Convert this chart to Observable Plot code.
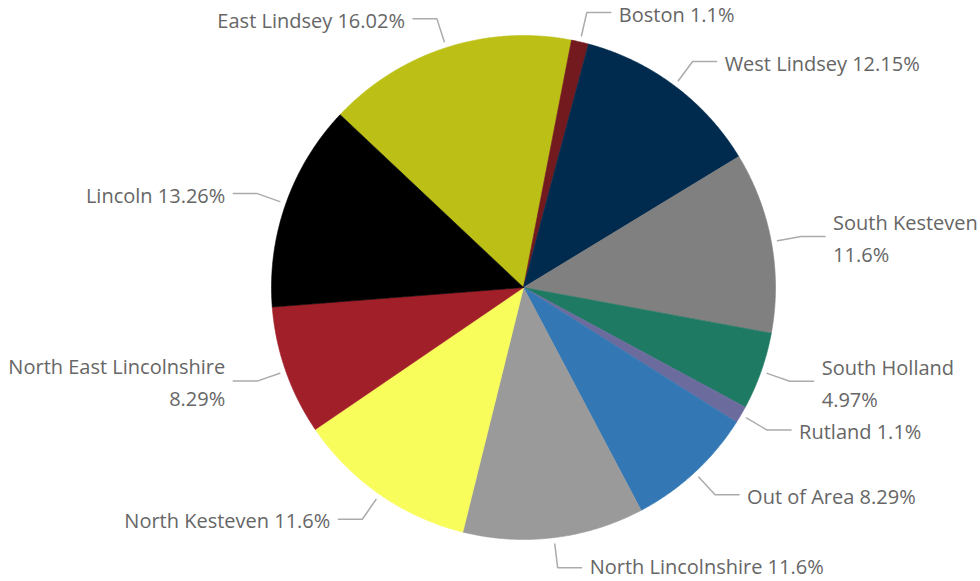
<!DOCTYPE html>
<html>
<head>
<meta charset="utf-8">
<script src="https://cdn.jsdelivr.net/npm/d3@7"></script>
<script src="https://cdn.jsdelivr.net/npm/@observablehq/plot@0.6"></script>
<style>
  html, body { margin: 0; padding: 0; background: #fff; }
  #chart svg { display: block; }
</style>
</head>
<body>
<div id="chart"></div>
<script>
// ---- data ----
const names = ["East Lindsey", "Boston", "West Lindsey", "South Kesteven", "South Holland", "Rutland",
               "Out of Area", "North Lincolnshire", "North Kesteven", "North East Lincolnshire", "Lincoln"];
const shares = [16.02, 1.1, 12.15, 11.6, 4.97, 1.1, 8.29, 11.6, 11.6, 8.29, 13.26];
const colors = ["#bcc016", "#731a1f", "#002b4e", "#808080", "#1e7a63", "#6b6b9d",
                "#3378b4", "#9a9a9a", "#f8fd5c", "#a11f29", "#000000"];

// ---- layout ----
const W = 980, H = 581, CX = 523, CY = 287, R = 252;
const START = -46.7 * Math.PI / 180;
const FONT_SIZE = 20, FONT_FAMILY = "'Open Sans', 'Noto Sans', sans-serif";
const LEAD_R0 = 1.025, LEAD_R1 = 1.12, HORIZ = 24 / R, GAP = 8 / R;

const rows = names.map((name, i) => ({name, share: shares[i]}));
const arcs = d3.pie().sort(null).value(d => d.share).startAngle(START).endAngle(START + 2 * Math.PI)(rows);

// slice polygons in unit-circle coordinates (y up)
const slicePts = [];
for (const a of arcs) {
  const n = Math.max(2, Math.ceil((a.endAngle - a.startAngle) / 0.005));
  slicePts.push({name: a.data.name, x: 0, y: 0});
  for (let k = 0; k <= n; k++) {
    const t = a.startAngle + (a.endAngle - a.startAngle) * k / n;
    slicePts.push({name: a.data.name, x: Math.sin(t), y: Math.cos(t)});
  }
  slicePts.push({name: a.data.name, x: 0, y: 0});
}

// text measurement for wrapping
const ctx = document.createElement("canvas").getContext("2d");
ctx.font = `${FONT_SIZE}px ${FONT_FAMILY}`;
const measure = s => ctx.measureText(s).width;

const leaders = [], labels = [];
for (const a of arcs) {
  const m = (a.startAngle + a.endAngle) / 2;
  const s = Math.sin(m), c = Math.cos(m);
  const right = s >= 0;
  const ex = s * LEAD_R1, ey = c * LEAD_R1;
  const hx = ex + (right ? HORIZ : -HORIZ);
  leaders.push({name: a.data.name, x: s * LEAD_R0, y: c * LEAD_R0});
  leaders.push({name: a.data.name, x: ex, y: ey});
  leaders.push({name: a.data.name, x: hx, y: ey});
  const tx = hx + (right ? GAP : -GAP);
  let text = `${a.data.name} ${a.data.share}%`;
  const px = CX + tx * R, w = measure(text);
  if ((right && px + w > W - 2) || (!right && px - w < 2)) {
    text = `${a.data.name}\n${a.data.share}%`;
  }
  // keep text box inside the frame vertically
  let ty = ey;
  const py = CY - ey * R;
  const limit = H - 0.85 * FONT_SIZE;
  if (py > limit) ty = (CY - limit) / R;
  labels.push({name: a.data.name, x: tx, y: ty, text, right});
}

const chart = Plot.plot({
  width: W,
  height: H,
  margin: 0,
  x: {domain: [-CX / R, (W - CX) / R], axis: null},
  y: {domain: [-(H - CY) / R, CY / R], axis: null},
  color: {domain: names, range: colors},
  style: {fontFamily: FONT_FAMILY, background: "#fff"},
  marks: [
    Plot.line(slicePts, {x: "x", y: "y", z: "name", fill: "name", stroke: "name", strokeWidth: 0.6, curve: "linear"}),
    Plot.line(leaders, {x: "x", y: "y", z: "name", stroke: "#ababab", strokeWidth: 1.5}),
    Plot.text(labels.filter(d => d.right), {x: "x", y: "y", text: "text", textAnchor: "start", dy: -1,
      fontSize: FONT_SIZE, lineHeight: 1.6, fill: "#666666"}),
    Plot.text(labels.filter(d => !d.right), {x: "x", y: "y", text: "text", textAnchor: "end", dy: -1,
      fontSize: FONT_SIZE, lineHeight: 1.6, fill: "#666666"})
  ]
});
document.getElementById("chart").appendChild(chart);
</script>
</body>
</html>
